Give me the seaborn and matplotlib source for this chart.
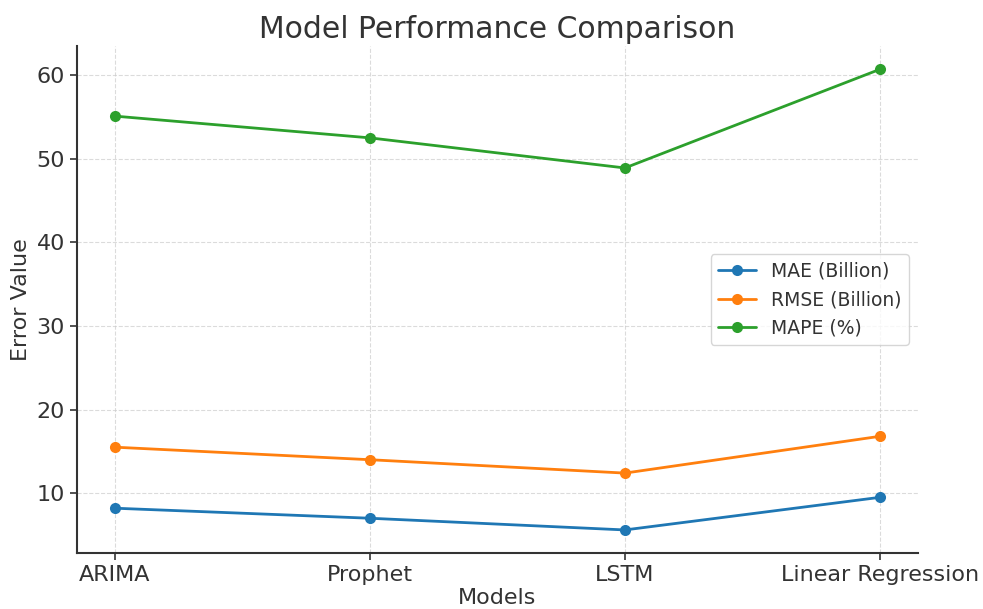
import matplotlib
matplotlib.use("Agg")
import matplotlib.pyplot as plt
import seaborn as sns
import pandas as pd

models = ["ARIMA", "Prophet", "LSTM", "Linear Regression"]
mae = [8.2, 7.0, 5.6, 9.5]
rmse = [15.5, 14.0, 12.4, 16.8]
mape = [55.1, 52.5, 48.9, 60.7]
series_names = ["MAE (Billion)", "RMSE (Billion)", "MAPE (%)"]

rows = []
for name, vals in zip(series_names, [mae, rmse, mape]):
    for m, v in zip(models, vals):
        rows.append({"Model": m, "Metric": name, "Value": v})
df = pd.DataFrame(rows)

sns.set_style("white")
plt.rcParams['font.family'] = ['DejaVu Sans']

fig = plt.figure(figsize=(9.83, 6.09), dpi=100)
ax = fig.add_axes([0.078, 0.092, 0.856, 0.832])
sns.lineplot(data=df, x="Model", y="Value", hue="Metric", marker="o",
             markersize=8, markeredgewidth=0, linewidth=2,
             palette=["#1f77b4", "#ff7f0e", "#2ca02c"], ax=ax)
ax.grid(True, linestyle="--", color="#cccccc", linewidth=0.8, alpha=0.7)
for s in ["top", "right"]:
    ax.spines[s].set_visible(False)
for s in ["left", "bottom"]:
    ax.spines[s].set_color("#333333")
    ax.spines[s].set_linewidth(1.5)
ax.tick_params(axis="both", labelsize=16, colors="#333333", length=5, width=1.2, left=True, bottom=True)
ax.set_title("Model Performance Comparison", fontsize=21.5, color="#333333", pad=6)
ax.set_xlabel("Models", fontsize=16, color="#333333", labelpad=2)
ax.set_ylabel("Error Value", fontsize=16, color="#333333")
ax.set_yticks([10, 20, 30, 40, 50, 60])
leg = ax.legend(loc="center right", fontsize=13.5, frameon=True)
for t in leg.get_texts():
    t.set_color("#333333")
fig.savefig("out.png", dpi=100)
